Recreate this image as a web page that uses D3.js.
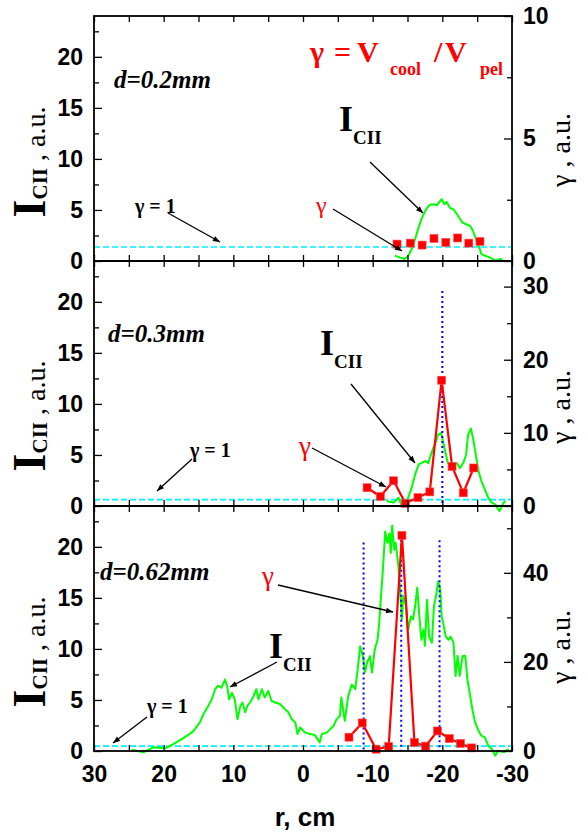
<!DOCTYPE html>
<html>
<head>
<meta charset="utf-8">
<script src="https://cdn.jsdelivr.net/npm/d3@7"></script>
<style>body{margin:0;background:#fff}</style>
</head>
<body>
<script>
// radial axis ticks
const rMajor = [30, 20, 10, 0, -10, -20, -30];
const rAll = [30, 25, 20, 15, 10, 5, 0, -5, -10, -15, -20, -25, -30];
const iMajor = [0, 5, 10, 15, 20];
const iMinor = [2.5, 7.5, 12.5, 17.5, 22.5];
const gammaMax = [10, 33.5, 55];
const gammaMajor = [[0, 5, 10], [0, 10, 20, 30], [0, 20, 40]];
const gammaMinor = [[2.5, 7.5], [5, 15, 25], [10, 30, 50]];
const unityLevel = [0.57, 0.87, 1.1];
const panelLabels = ["d=0.2mm", "d=0.3mm", "d=0.62mm"];

// I_CII  [r, intensity]
const cii1 = [[-13.2,0.52],[-13.9,0.36],[-14.6,0.2],[-15.1,0.5],[-15.6,1.17],[-16.1,2.15],[-16.6,3.3],[-17.0,4.1],
  [-17.7,5.1],[-18.2,5.5],[-18.7,5.56],[-19.2,5.46],[-19.5,5.72],[-19.9,6.05],[-20.3,5.56],[-20.6,5.8],[-21.1,5.2],
  [-21.6,5.07],[-22.1,4.6],[-22.4,4.26],[-22.9,3.77],[-23.4,3.6],[-24.0,3.44],[-24.4,2.96],[-24.8,2.15],[-25.3,1.34],
  [-25.6,0.68],[-26.1,0.52],[-26.8,0.36],[-27.6,0.03],[-28.3,0.2],[-28.6,0.15]];
const cii2 = [[-12.0,0.49],[-13.0,0.33],[-13.7,0.8],[-14.2,0],[-14.6,0.16],[-15.1,0.8],[-15.6,1.8],[-16.1,3.1],
  [-16.6,4.07],[-17.0,4.2],[-17.5,4.4],[-18.0,4.2],[-18.3,4.9],[-18.7,5.7],[-19.1,6.34],[-19.4,7.0],[-19.8,7.15],
  [-20.1,6.34],[-20.4,5.37],[-20.8,4.2],[-21.3,4.07],[-22.1,4.2],[-22.5,3.7],[-23.0,4.2],[-23.4,5.0],[-23.7,7.0],
  [-24.1,7.6],[-24.4,6.66],[-24.8,5.04],[-25.2,3.4],[-25.6,2.44],[-26.1,1.63],[-26.6,0.8],[-27.1,0.33],[-27.6,0.16],
  [-28.2,-0.5],[-28.8,0.33],[-29.1,0.5]];
const cii3 = [[24.6,0.13],[22.9,-0.13],[21.5,0.36],[19.8,0.26],[18.6,0.68],[17.4,1.17],[16.0,1.8],[15.7,1.97],
  [14.8,2.8],[14.3,3.6],[13.6,4.4],[13.1,5.07],[12.6,6.05],[12.2,6.4],[11.7,6.2],[11.2,7.0],[10.9,6.4],[10.6,5.07],
  [10.2,5.7],[9.8,5.07],[9.4,3.1],[9.0,4.4],[8.7,4.75],[8.3,3.8],[8.0,4.4],[7.6,4.75],[7.1,5.37],[6.7,6.05],
  [6.4,5.07],[5.9,6.05],[5.5,5.24],[5.0,5.88],[4.5,4.9],[4.0,4.75],[3.3,4.6],[2.6,4.1],[2.1,3.8],[1.6,3.1],
  [1.1,2.8],[0.8,1.66],[0.4,2.3],[-0.3,1.8],[-1.0,1.66],[-1.7,1.56],[-2.4,0.85],[-2.7,1.66],[-3.4,1.8],[-4.4,2.47],
  [-4.8,3.1],[-5.3,3.44],[-5.5,5.24],[-6.0,2.96],[-6.5,5.4],[-7.0,6.5],[-7.5,6.05],[-7.9,8.3],[-8.2,10.27],
  [-8.6,9.3],[-8.9,7.7],[-9.2,8.65],[-9.6,9.3],[-9.9,7.7],[-10.3,9.95],[-10.7,10.9],[-10.9,12.2],[-11.3,16.1],
  [-11.5,18.1],[-11.8,21.5],[-12.1,20.4],[-12.4,21.3],[-12.6,19.4],[-12.8,22.1],[-13.1,19.7],[-13.3,20.4],
  [-13.7,18.1],[-13.9,16.1],[-14.2,12.9],[-14.4,15.2],[-14.8,14.2],[-15.1,11.9],[-15.5,13.2],[-15.8,12.9],
  [-16.1,14.2],[-16.4,16.0],[-16.7,13.2],[-17.0,10.9],[-17.3,11.9],[-17.5,10.3],[-17.8,14.8],[-18.1,11.2],
  [-18.5,10.6],[-18.8,14.2],[-19.1,15.2],[-19.4,16.6],[-19.7,15.8],[-19.9,13.2],[-20.1,12.6],[-20.5,11.2],
  [-20.9,10.9],[-21.2,11.2],[-21.6,10.6],[-21.9,7.35],[-22.2,9.3],[-22.5,7.35],[-22.9,9.3],[-23.3,9.3],[-23.6,7.0],
  [-24.0,5.4],[-24.3,4.1],[-24.7,2.8],[-25.2,1.98],[-25.6,1.5],[-26.1,1.34],[-26.6,0.52],[-27.1,0.2],[-27.6,-0.46],
  [-28.0,0.03],[-28.8,-0.13],[-29.5,0.2]];

// gamma = Vcool / Vpel  [r, gamma]
const gam1 = [[-13.5,0.69],[-15.4,0.73],[-17.1,0.65],[-18.8,0.92],[-20.5,0.76],[-22.2,0.94],[-23.8,0.73],[-25.4,0.8]];
const gam2 = [[-9.2,2.5],[-11.1,1.3],[-13.0,3.45],[-14.7,0.37],[-16.5,1.15],[-18.2,1.93],[-19.9,17.2],[-21.4,5.4],
  [-23.0,1.8],[-24.5,5.2]];
const gam3 = [[-6.6,3.1],[-8.5,6.3],[-10.5,0.4],[-12.3,1.0],[-14.2,48.4],[-16.0,1.9],[-17.6,1.1],[-19.3,4.5],
  [-21.0,2.8],[-22.6,1.7],[-24.2,0.7]];

// vertical dotted markers [r, gamma top]
const dots1 = [];
const dots2 = [[-20.0, 29.4]];
const dots3 = [[-8.7, 46.8], [-14.1, 47.4], [-19.6, 47.3]];

const serif = "'Liberation Serif','Times New Roman',serif";
const sans = "'Liberation Sans',Arial,sans-serif";
const W = 588, H = 837;
const left = 94, right = 512, top0 = 16, ph = 245;

const svg = d3.select("body").append("svg")
  .attr("width", W).attr("height", H)
  .style("background", "#fff");

svg.append("defs").append("marker")
  .attr("id", "ah").attr("viewBox", "0 0 10 10")
  .attr("refX", 10).attr("refY", 5)
  .attr("markerWidth", 10).attr("markerHeight", 7)
  .attr("markerUnits", "userSpaceOnUse").attr("orient", "auto")
  .append("path").attr("d", "M0,1L10,5L0,9Z").attr("fill", "#000");

const x = d3.scaleLinear().domain([30, -30]).range([left, right]);

const panels = [
  { cii: cii1, gam: gam1, dots: dots1, joined: false },
  { cii: cii2, gam: gam2, dots: dots2, joined: true },
  { cii: cii3, gam: gam3, dots: dots3, joined: true }
];

function styleAxis(a, size) {
  a.select(".domain").remove();
  a.selectAll("line").attr("stroke", "#000").attr("stroke-width", 1.3);
  a.selectAll("text").attr("font-family", sans).attr("font-weight", "bold")
    .attr("font-size", size || 23).attr("fill", "#000");
}

function rich(px, py, parts, extra) {
  const t = svg.append("text").attr("x", px).attr("y", py);
  if (extra) t.attr("transform", extra).attr("x", 0).attr("y", 0).attr("text-anchor", "middle");
  parts.forEach(p => {
    const s = t.append("tspan").text(p.t)
      .attr("font-family", p.f || serif)
      .attr("font-size", p.s)
      .attr("font-weight", p.w || "normal")
      .attr("font-style", p.i ? "italic" : "normal")
      .attr("fill", p.c || "#000");
    if (p.dy) s.attr("dy", p.dy);
    if (p.x !== undefined) s.attr("x", p.x);
  });
  return t;
}

function arrow(x1, y1, x2, y2) {
  svg.append("line").attr("x1", x1).attr("y1", y1).attr("x2", x2).attr("y2", y2)
    .attr("stroke", "#000").attr("stroke-width", 1.3).attr("marker-end", "url(#ah)");
}

panels.forEach((p, i) => {
  const y0 = top0 + i * ph, y1 = y0 + ph;
  const yI = d3.scaleLinear().domain([0, 24]).range([y1, y0]);
  const yG = d3.scaleLinear().domain([0, gammaMax[i]]).range([y1, y0]);
  const g = svg.append("g");

  g.append("line")
    .attr("x1", left).attr("x2", right)
    .attr("y1", yG(unityLevel[i])).attr("y2", yG(unityLevel[i]))
    .attr("stroke", "#00f0ff").attr("stroke-width", 1.6).attr("stroke-dasharray", "6,3");

  g.append("path").datum(p.cii)
    .attr("d", d3.line().x(d => x(d[0])).y(d => yI(d[1])))
    .attr("fill", "none").attr("stroke", "#00ff00").attr("stroke-width", 2)
    .attr("stroke-linejoin", "round");

  g.selectAll(".dot").data(p.dots).join("line")
    .attr("x1", d => x(d[0])).attr("x2", d => x(d[0]))
    .attr("y1", d => yG(d[1])).attr("y2", y1)
    .attr("stroke", "#0000ff").attr("stroke-width", 2).attr("stroke-dasharray", "2,3");

  if (p.joined) {
    g.append("path").datum(p.gam)
      .attr("d", d3.line().x(d => x(d[0])).y(d => yG(d[1])))
      .attr("fill", "none").attr("stroke", "#ff0000").attr("stroke-width", 2.2);
  }
  g.selectAll(".sq").data(p.gam).join("rect")
    .attr("x", d => x(d[0]) - 4).attr("y", d => yG(d[1]) - 4)
    .attr("width", 8).attr("height", 8)
    .attr("fill", "#ff0000").attr("stroke", "#ff5050").attr("stroke-width", 0.6);

  g.append("rect").attr("x", left).attr("y", y0).attr("width", right - left).attr("height", ph)
    .attr("fill", "none").attr("stroke", "#000").attr("stroke-width", 1.8);

  g.append("g").attr("transform", `translate(0,${y1})`)
    .call(d3.axisBottom(x).tickValues(rAll).tickSize(-6).tickSizeOuter(0).tickFormat(""))
    .call(styleAxis);
  g.append("g").attr("transform", `translate(0,${y0})`)
    .call(d3.axisTop(x).tickValues(rAll).tickSize(-6).tickSizeOuter(0).tickFormat(""))
    .call(styleAxis);
  g.append("g").attr("transform", `translate(${left},0)`)
    .call(d3.axisLeft(yI).tickValues(iMajor).tickSize(-8).tickSizeOuter(0).tickPadding(11))
    .call(styleAxis);
  g.append("g").attr("transform", `translate(${left},0)`)
    .call(d3.axisLeft(yI).tickValues(iMinor).tickSize(-5).tickSizeOuter(0).tickFormat(""))
    .call(styleAxis);
  g.append("g").attr("transform", `translate(${right},0)`)
    .call(d3.axisRight(yG).tickValues(gammaMajor[i]).tickSize(-8).tickSizeOuter(0).tickPadding(11))
    .call(styleAxis);
  g.append("g").attr("transform", `translate(${right},0)`)
    .call(d3.axisRight(yG).tickValues(gammaMinor[i]).tickSize(-5).tickSizeOuter(0).tickFormat(""))
    .call(styleAxis);

  if (i === panels.length - 1) {
    g.append("g").attr("transform", `translate(0,${y1})`)
      .call(d3.axisBottom(x).tickValues(rMajor).tickSize(0).tickPadding(15).tickFormat(d => String(d)))
      .call(styleAxis);
  }
});

// panel labels
const labelPos = [[114, 88], [108, 342], [100, 580]];
panelLabels.forEach((t, i) => {
  rich(labelPos[i][0], labelPos[i][1], [{ t: t, s: 25, w: "bold", i: true }]);
});

// axis titles
[162, 416, 652].forEach(cy => {
  rich(0, 0, [
    { t: "I", s: 46, w: "bold" },
    { t: "CII", s: 21, w: "bold", dy: 2 },
    { t: " , a.u.", s: 28, dy: -2 }
  ], `translate(45,${cy}) rotate(-90)`);
});
[150, 407, 647].forEach(cy => {
  rich(0, 0, [{ t: "\u03b3 , a.u.", s: 28 }], `translate(570,${cy}) rotate(-90)`);
});
svg.append("text").attr("x", 305).attr("y", 826).attr("text-anchor", "middle")
  .attr("font-family", sans).attr("font-weight", "bold").attr("font-size", 26).text("r, cm");

// formula
rich(0, 62, [
  { t: "\u03b3", s: 30, w: "bold", c: "#ff0000", x: 310 },
  { t: "=", s: 30, w: "bold", c: "#ff0000", x: 334 },
  { t: "V", s: 30, w: "bold", c: "#ff0000", x: 357 },
  { t: "cool", s: 18, w: "bold", c: "#ff0000", x: 390, dy: 13 },
  { t: "/", s: 30, w: "bold", c: "#ff0000", x: 434, dy: -13 },
  { t: "V", s: 30, w: "bold", c: "#ff0000", x: 445 },
  { t: "pel", s: 18, w: "bold", c: "#ff0000", x: 480, dy: 13 }
]);

// I_CII annotations
const ciiText = [[339, 131], [320, 355], [269, 658]];
ciiText.forEach(([px, py]) => {
  rich(px, py, [{ t: "I", s: 36, w: "bold" }, { t: "CII", s: 19, w: "bold", dy: 13 }]);
});
arrow(370, 162, 423, 213);
arrow(351, 384, 415, 463);
arrow(277, 662, 230, 687);

// gamma annotations
const gamText = [[316, 213, 24], [299, 455, 27], [262, 585, 27]];
gamText.forEach(([px, py, s]) => {
  rich(px, py, [{ t: "\u03b3", s: s, c: "#ff0000" }]);
});
arrow(333, 209, 402, 251);
arrow(312, 448, 386, 487);
arrow(278, 585, 393, 612);

// gamma = 1 annotations
const unityText = [[135, 213], [190, 457], [147, 713]];
unityText.forEach(([px, py]) => {
  rich(px, py, [{ t: "\u03b3 = 1", s: 20, w: "bold" }]);
});
arrow(168, 213, 220, 242);
arrow(192, 459, 157, 491);
arrow(147, 717, 113, 743);
</script>
</body>
</html>
